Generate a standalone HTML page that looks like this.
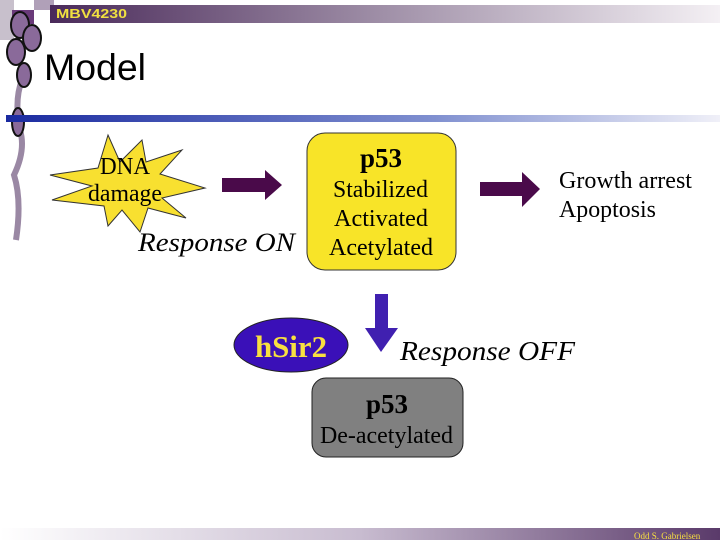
<!DOCTYPE html>
<html><head><meta charset="utf-8"><style>
body{margin:0;width:720px;height:540px;overflow:hidden;background:#fff}
text{font-family:"Liberation Serif",serif}
</style></head><body>
<svg width="720" height="540" viewBox="0 0 720 540">
<defs>
<linearGradient id="tb" x1="0" x2="1"><stop offset="0" stop-color="#4a2a5a"/><stop offset="0.5" stop-color="#a090a8"/><stop offset="1" stop-color="#f4f0f4"/></linearGradient>
<linearGradient id="bl" x1="0" x2="1"><stop offset="0" stop-color="#1a2aa0"/><stop offset="0.6" stop-color="#8090d0"/><stop offset="1" stop-color="#f0f0f8"/></linearGradient>
<linearGradient id="bb" x1="0" x2="1"><stop offset="0" stop-color="#ffffff"/><stop offset="0.5" stop-color="#c8bcd0"/><stop offset="1" stop-color="#5a3a6a"/></linearGradient>
</defs>
<rect x="0" y="0" width="14" height="40" fill="#c8c0cc"/>
<rect x="12" y="10" width="22" height="14" fill="#6a3a7a"/>
<rect x="34" y="0" width="20" height="10" fill="#b0a0b8"/>
<rect x="50" y="5" width="670" height="18" fill="url(#tb)"/>
<text x="56" y="18" font-weight="bold" font-size="13" fill="#f0e040" textLength="71" lengthAdjust="spacingAndGlyphs" style="font-family:'Liberation Sans',sans-serif">MBV4230</text>
<path d="M22 80 Q14 100 20 130 Q26 150 14 175 Q22 200 16 240" stroke="#9a88a4" stroke-width="6" fill="none"/>
<g fill="#8a6a9a" stroke="#111" stroke-width="2">
<ellipse cx="20" cy="25" rx="9" ry="13"/>
<ellipse cx="32" cy="38" rx="9" ry="13"/>
<ellipse cx="16" cy="52" rx="9" ry="13"/>
<ellipse cx="24" cy="75" rx="7" ry="12"/>
<ellipse cx="18" cy="122" rx="6" ry="14"/>
</g>
<text x="44" y="80" font-size="37" textLength="102" lengthAdjust="spacingAndGlyphs" style="font-family:'Liberation Sans',sans-serif">Model</text>
<rect x="6" y="115" width="714" height="7" fill="url(#bl)"/>
<polygon fill="#f8e030" stroke="#333" stroke-width="1" points="108,135 120,162 142,140 146,162 182,150 160,174 205,188 162,198 186,218 148,208 140,232 122,210 108,226 104,206 52,200 92,186 50,175 98,168"/>
<text x="100" y="174" font-size="24" textLength="50" lengthAdjust="spacingAndGlyphs">DNA</text>
<text x="88" y="201" font-size="24" textLength="74" lengthAdjust="spacingAndGlyphs">damage</text>
<polygon fill="#4a0a4a" points="222,178 265,178 265,170 282,185 265,200 265,192 222,192"/>
<text x="138" y="251" font-size="26" font-style="italic" textLength="157" lengthAdjust="spacingAndGlyphs">Response ON</text>
<rect x="307" y="133" width="149" height="137" rx="18" fill="#f8e428" stroke="#333"/>
<text x="360" y="167" font-size="27" font-weight="bold" textLength="42" lengthAdjust="spacingAndGlyphs">p53</text>
<text x="333" y="197" font-size="24" textLength="95" lengthAdjust="spacingAndGlyphs">Stabilized</text>
<text x="334" y="226" font-size="24" textLength="94" lengthAdjust="spacingAndGlyphs">Activated</text>
<text x="329" y="255" font-size="24" textLength="104" lengthAdjust="spacingAndGlyphs">Acetylated</text>
<polygon fill="#4a0a4a" points="480,182 522,182 522,172 540,189 522,207 522,196 480,196"/>
<text x="559" y="188" font-size="24" textLength="133" lengthAdjust="spacingAndGlyphs">Growth arrest</text>
<text x="559" y="217" font-size="24" textLength="97" lengthAdjust="spacingAndGlyphs">Apoptosis</text>
<ellipse cx="291" cy="345" rx="57" ry="27" fill="#3a10b8" stroke="#222"/>
<text x="255" y="357" font-size="31" font-weight="bold" fill="#f8e040" textLength="72" lengthAdjust="spacingAndGlyphs">hSir2</text>
<polygon fill="#4020b0" points="375,294 388,294 388,328 398,328 381,352 365,328 375,328"/>
<text x="400" y="360" font-size="27" font-style="italic" textLength="175" lengthAdjust="spacingAndGlyphs">Response OFF</text>
<rect x="312" y="378" width="151" height="79" rx="14" fill="#808080" stroke="#222"/>
<text x="366" y="413" font-size="27" font-weight="bold" textLength="42" lengthAdjust="spacingAndGlyphs">p53</text>
<text x="320" y="443" font-size="24" textLength="133" lengthAdjust="spacingAndGlyphs">De-acetylated</text>
<rect x="0" y="528" width="720" height="12" fill="url(#bb)"/>
<text x="634" y="539" font-size="9" fill="#f8e040">Odd S. Gabrielsen</text>
</svg>
</body></html>
